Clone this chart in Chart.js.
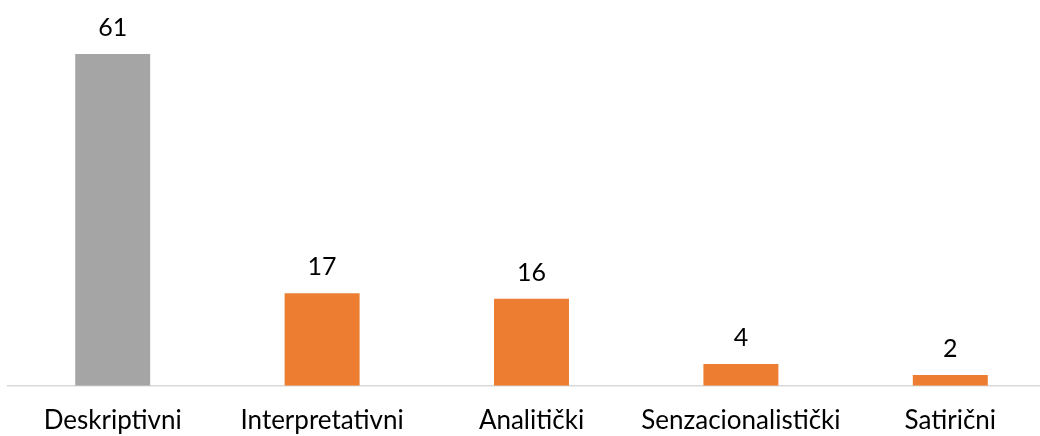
<!DOCTYPE html>
<html>
<head>
<meta charset="utf-8">
<script src="https://cdn.jsdelivr.net/npm/chart.js@4.4.1/dist/chart.umd.min.js"></script>
<style>
  html, body { margin: 0; padding: 0; background: #fff; overflow: hidden; }
  #wrap { width: 1040px; height: 436px; overflow: hidden; }
  #box { width: 1056px; height: 458px; }
</style>
</head>
<body>
<div id="wrap"><div id="box"><canvas id="chart"></canvas></div></div>
<script>
// Chart data
const categories = ['Deskriptivni', 'Interpretativni', 'Analitički', 'Senzacionalistički', 'Satirični'];
const values = [61, 17, 16, 4, 2];
const barColors = ['#A5A5A5', '#ED7D31', '#ED7D31', '#ED7D31', '#ED7D31'];

const FONT = 'Lato, "Open Sans", sans-serif';

// Draw the value above each bar
const valueLabels = {
    id: 'valueLabels',
    afterDatasetsDraw(chart) {
        const ctx = chart.ctx;
        const meta = chart.getDatasetMeta(0);
        ctx.save();
        ctx.font = '25px ' + FONT;
        ctx.fillStyle = '#000';
        ctx.textAlign = 'center';
        ctx.textBaseline = 'alphabetic';
        meta.data.forEach((bar, i) => {
            ctx.fillText(String(values[i]), bar.x, bar.y - 18);
        });
        ctx.restore();
    }
};

new Chart(document.getElementById('chart').getContext('2d'), {
    type: 'bar',
    data: {
        labels: categories,
        datasets: [{
            data: values,
            backgroundColor: barColors,
            borderWidth: 0,
            barPercentage: 1,
            categoryPercentage: 0.358
        }]
    },
    options: {
        responsive: true,
        maintainAspectRatio: false,
        animation: false,
        layout: { padding: { left: 8, right: 1, top: 5, bottom: 3 } },
        plugins: {
            legend: { display: false },
            tooltip: { enabled: false }
        },
        scales: {
            x: {
                grid: { display: false, drawTicks: false },
                border: { display: true, color: '#D9D9D9', width: 1.5 },
                ticks: { color: '#000', padding: 19, font: { family: FONT, size: 26 } }
            },
            y: {
                display: false,
                min: 0,
                max: 70
            }
        }
    },
    plugins: [valueLabels]
});
</script>
</body>
</html>
